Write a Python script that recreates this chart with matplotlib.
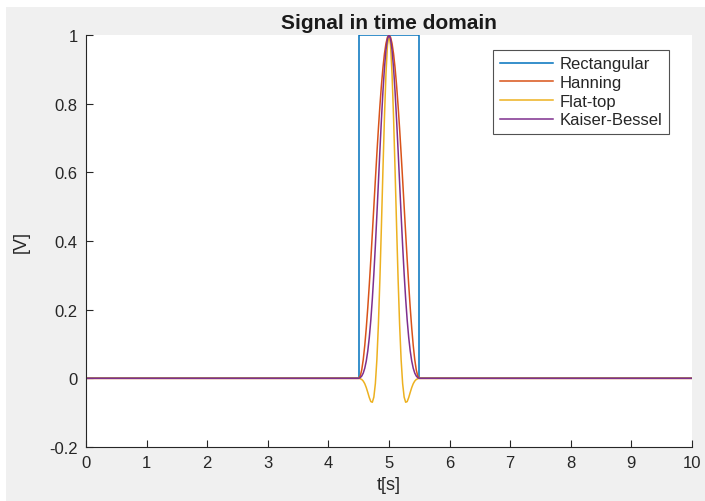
import matplotlib
matplotlib.use("Agg")
import matplotlib.pyplot as plt
from matplotlib.patches import Rectangle

plt.rcParams['font.family'] = ['Liberation Sans', 'DejaVu Sans']

# ---- data ----
# time samples across the window (4.5 s .. 5.5 s, step 0.025 s)
t_win = [4.5, 4.525, 4.55, 4.575, 4.6, 4.625, 4.65, 4.675, 4.7, 4.725,
         4.75, 4.775, 4.8, 4.825, 4.85, 4.875, 4.9, 4.925, 4.95, 4.975,
         5.0,
         5.025, 5.05, 5.075, 5.1, 5.125, 5.15, 5.175, 5.2, 5.225, 5.25,
         5.275, 5.3, 5.325, 5.35, 5.375, 5.4, 5.425, 5.45, 5.475, 5.5]

hanning_half = [0.0, 0.0062, 0.0245, 0.0545, 0.0955, 0.1465, 0.2061, 0.2730,
                0.3455, 0.4218, 0.5, 0.5782, 0.6545, 0.7270, 0.7939, 0.8536,
                0.9045, 0.9455, 0.9755, 0.9938]
flattop_half = [0.0, -0.0011, -0.0033, -0.0079, -0.0156, -0.0269, -0.0411,
                -0.0561, -0.0677, -0.0697, -0.0547, -0.0153, 0.0546, 0.1571,
                0.2897, 0.4441, 0.6069, 0.7607, 0.8874, 0.9709]
kaiser_half = [0.0, 0.0019, 0.0066, 0.0153, 0.0294, 0.0504, 0.0799, 0.1193,
               0.1696, 0.2313, 0.3040, 0.3863, 0.4759, 0.5696, 0.6637, 0.7538,
               0.8354, 0.9042, 0.9564, 0.9889]
peak = [1.0]

hanning = hanning_half + peak + hanning_half[::-1]
flattop = flattop_half + peak + flattop_half[::-1]
kaiser = kaiser_half + peak + kaiser_half[::-1]

t_start, t_end = 0.0, 10.0
rect_t = [0.0, 4.5, 4.5, 5.5, 5.5, 10.0]
rect_v = [0, 0, 1, 1, 0, 0]

labels = ['Rectangular', 'Hanning', 'Flat-top', 'Kaiser-Bessel']
colors = ['#0072BD', '#D95319', '#EDB120', '#7E2F8E']

x_ticks = [0, 1, 2, 3, 4, 5, 6, 7, 8, 9, 10]
y_ticks = [-0.2, 0, 0.2, 0.4, 0.6, 0.8, 1]
y_ticklabels = ['-0.2', '0', '0.2', '0.4', '0.6', '0.8', '1']

# ---- figure ----
fig = plt.figure(figsize=(7.05, 5.02), dpi=100, facecolor='white')
fig.patches.append(Rectangle((6 / 705, -0.05), 1.1, 1.05 - 8 / 502, transform=fig.transFigure,
                             facecolor='#f0f0f0', edgecolor='none', zorder=-10))

ax = fig.add_axes([86 / 705, 1 - 448 / 502, (692 - 86) / 705, (448 - 36) / 502])
ax.set_facecolor('white')

full_t = [t_start] + t_win + [t_end]
lw = 1.1
ax.plot(rect_t, rect_v, color=colors[0], lw=lw, label=labels[0])
ax.plot(full_t, [0] + hanning + [0], color=colors[1], lw=lw, label=labels[1])
ax.plot(full_t, [0] + flattop + [0], color=colors[2], lw=lw, label=labels[2])
ax.plot(full_t, [0] + kaiser + [0], color=colors[3], lw=lw, label=labels[3])

ax.set_xlim(0, 10)
ax.set_ylim(-0.2, 1)
ax.set_xticks(x_ticks)
ax.set_yticks(y_ticks)
ax.set_yticklabels(y_ticklabels)

for s in ['top', 'right']:
    ax.spines[s].set_visible(False)
for s in ['left', 'bottom']:
    ax.spines[s].set_color('#262626')
    ax.spines[s].set_linewidth(0.8)
ax.tick_params(direction='in', length=5, width=0.8, colors='#262626',
               labelsize=12, pad=6)

ax.set_title('Signal in time domain', fontsize=15, fontweight='bold',
             color='#1a1a1a', pad=5)
ax.set_xlabel('t[s]', fontsize=13, color='#262626', labelpad=4)
ax.set_ylabel('[V]', fontsize=13, color='#262626', labelpad=14)

leg = ax.legend(loc='upper right', bbox_to_anchor=(0.962, 0.964), borderaxespad=0,
                fontsize=12, frameon=True, fancybox=False, edgecolor='#262626',
                handlelength=3.2, handletextpad=0.4, labelspacing=0.22,
                borderpad=0.4)
leg.get_frame().set_linewidth(0.8)
for txt in leg.get_texts():
    txt.set_color('#262626')

fig.savefig('out.png', dpi=100, facecolor=fig.get_facecolor())
